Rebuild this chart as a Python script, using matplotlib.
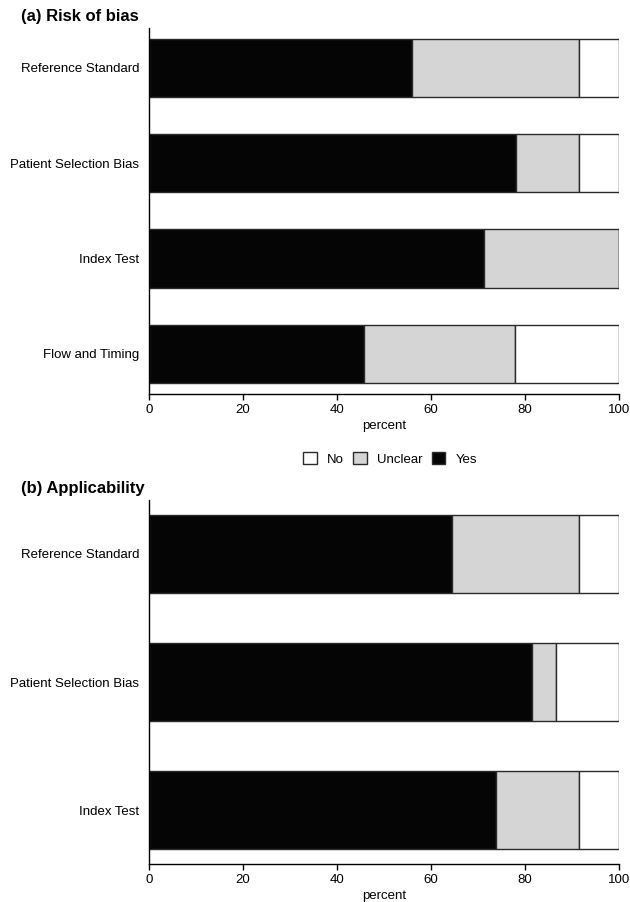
import matplotlib
matplotlib.use('Agg')
import matplotlib.pyplot as plt
from matplotlib.patches import Patch

plt.rcParams['font.family'] = ['Liberation Sans', 'DejaVu Sans']

# (a) Risk of bias
kategorie_a = ['Reference Standard', 'Patient Selection Bias', 'Index Test', 'Flow and Timing']
tak_a = [56.0, 78.0, 71.3, 45.8]
niejasne_a = [35.5, 13.5, 28.7, 32.1]
nie_a = [8.5, 8.5, 0.0, 22.1]

# (b) Applicability
kategorie_b = ['Reference Standard', 'Patient Selection Bias', 'Index Test']
tak_b = [64.5, 81.5, 73.8]
niejasne_b = [27.0, 5.0, 17.6]
nie_b = [8.5, 13.5, 8.6]

kolory = {'Yes': '#050505', 'Unclear': '#d5d5d5', 'No': '#ffffff'}
krawedz = '#2a2a2a'


def rysuj(ax, kategorie, tak, niejasne, nie):
    n = len(kategorie)
    pozycje = list(range(n - 1, -1, -1))
    lewo2 = [a + b for a, b in zip(tak, niejasne)]
    ax.barh(pozycje, tak, height=0.61, color=kolory['Yes'], edgecolor=krawedz, linewidth=1)
    ax.barh(pozycje, niejasne, left=tak, height=0.61, color=kolory['Unclear'], edgecolor=krawedz, linewidth=1)
    ax.barh(pozycje, nie, left=lewo2, height=0.61, color=kolory['No'], edgecolor=krawedz, linewidth=1)
    ax.set_yticks(pozycje)
    ax.set_yticklabels(kategorie, fontsize=9.5)
    ax.tick_params(axis='y', length=0, pad=7)
    ax.tick_params(axis='x', length=4, width=1, labelsize=9.5, pad=3)
    ax.set_xlim(0, 100)
    ax.set_ylim(-0.42, n - 1 + 0.42)
    ax.set_xticks([0, 20, 40, 60, 80, 100])
    ax.set_xlabel('percent', fontsize=9.5, labelpad=3)
    for s in ['top', 'right']:
        ax.spines[s].set_visible(False)
    for s in ['left', 'bottom']:
        ax.spines[s].set_linewidth(1)
        ax.spines[s].set_color('black')


fig = plt.figure(figsize=(6.3, 9.02), dpi=100)
ax1 = fig.add_axes([0.2365, 0.5632, 0.746, 0.406])
ax2 = fig.add_axes([0.2365, 0.0421, 0.746, 0.4036])

rysuj(ax1, kategorie_a, tak_a, niejasne_a, nie_a)
rysuj(ax2, kategorie_b, tak_b, niejasne_b, nie_b)

fig.text(21 / 630, 1 - 17 / 902, '(a) Risk of bias', fontsize=12, fontweight='bold', va='center', ha='left')
fig.text(21 / 630, 1 - 489 / 902, '(b) Applicability', fontsize=12, fontweight='bold', va='center', ha='left')

uchwyty = [Patch(facecolor=kolory[k], edgecolor=krawedz, linewidth=1, label=k)
           for k in ['No', 'Unclear', 'Yes']]
fig.legend(handles=uchwyty, loc='center', bbox_to_anchor=(390 / 630, 1 - 459 / 902),
           ncol=3, frameon=False, fontsize=9.5, handlelength=1.05, handleheight=1.05,
           handletextpad=0.75, columnspacing=0.7)

fig.savefig('out.png', dpi=100)
